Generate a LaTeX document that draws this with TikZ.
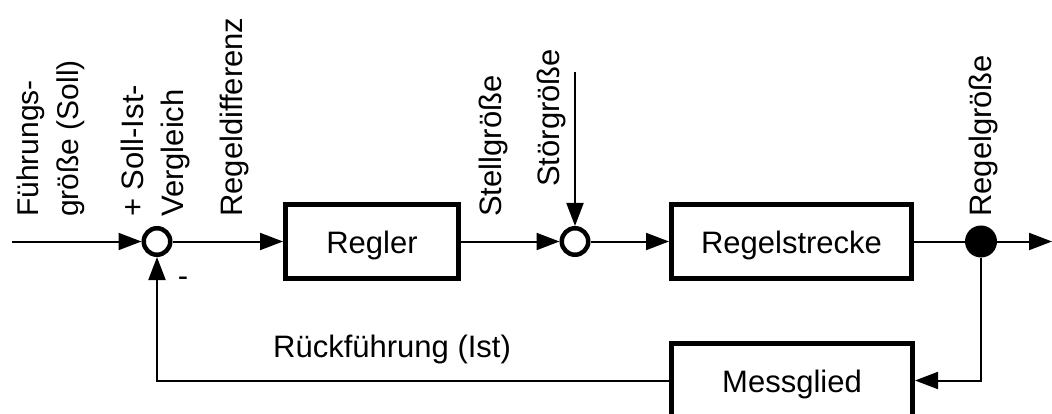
\documentclass[tikz,border=0pt]{standalone}
\usepackage{fontspec}
\setmainfont{Liberation Sans}
\usetikzlibrary{arrows.meta}
\begin{document}
\begin{tikzpicture}[x=1pt,y=-1pt,
  every node/.style={font=\fontsize{31}{40}\selectfont},
  wire/.style={line width=2pt},
  arr/.style={wire,-{Triangle[length=23pt,width=17pt]}},
  block/.style={draw,line width=5pt,minimum height=74pt,inner sep=0pt,
    text height=23pt,text depth=0pt},
  junction/.style={circle,draw,fill=white,line width=4.5pt,inner sep=0pt,minimum size=26.5pt},
  branch/.style={circle,fill=black,inner sep=0pt,minimum size=32pt},
  vlabel/.style={rotate=90,anchor=west,inner sep=0pt,align=left}
]
\clip (0,0) rectangle (1052,414);

% blocks
\node[block,minimum width=173pt] (regler) at (372,241.5) {Regler};
\node[block,minimum width=240pt] (strecke) at (791.5,241.5) {Regelstrecke};
\node[block,minimum width=241pt] (mess) at (792,380.5) {Messglied};

% summing points and branch point
\node[junction] (sum1) at (157,241.5) {};
\node[junction] (sum2) at (575,241.5) {};
\node[branch] (dot) at (981,241.5) {};

% free ends
\coordinate (in) at (12,241.5);
\coordinate (out) at (1052,241.5);
\coordinate (dist) at (575,72);

% forward path
\draw[arr] (in) -- (sum1);
\draw[arr] (sum1) -- (regler);
\draw[arr] (regler) -- (sum2);
\draw[arr] (sum2) -- (strecke);
\draw[wire] (strecke) -- (dot);
\draw[arr] (dot) -- (out);
\draw[arr] (dist) -- (sum2);

% feedback path
\draw[arr] (dot.south) |- (mess.east);
\draw[arr] (mess.west) -| (sum1.south);

% labels
\node[vlabel,font=\fontsize{30}{40}\selectfont] (fuehrung) at (50.5,217) {Führungs-\\größe (Soll)};
\node[vlabel] (vergleich) at (155,217) {+ Soll-Ist-\\Vergleich};
\node[vlabel] (differenz) at (234.5,217) {Regeldifferenz};
\node[vlabel] (stell) at (493.5,217) {Stellgröße};
\node[vlabel] (stoer) at (551.5,187) {Störgröße};
\node[vlabel] (regelgr) at (983.5,217) {Regelgröße};
\node[anchor=base west,inner sep=0pt] (rueck) at (273,357) {Rückführung (Ist)};
\node[inner sep=0pt] (minus) at (183,282) {-};
\end{tikzpicture}
\end{document}
